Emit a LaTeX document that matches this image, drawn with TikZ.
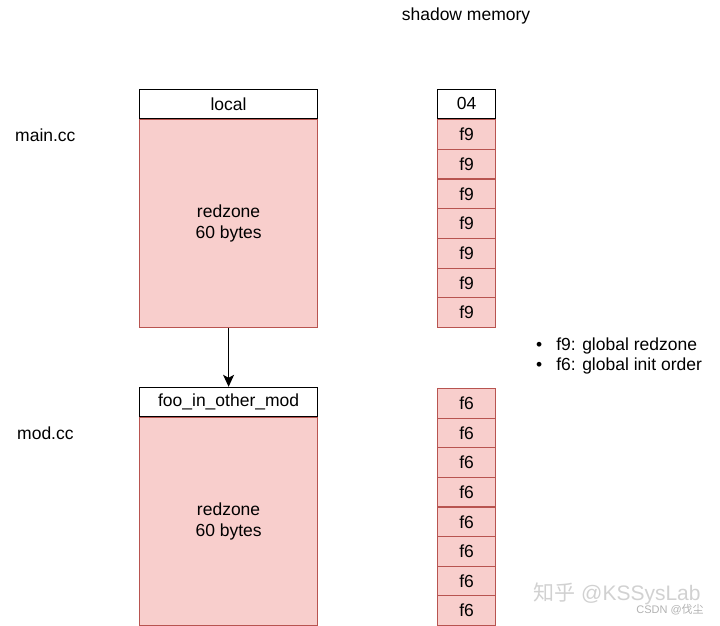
\documentclass[tikz,border=0pt]{standalone}
\usepackage{fontspec}
\setmainfont{Liberation Sans}
\newfontfamily\cjk{Noto Sans CJK SC}
\usetikzlibrary{arrows.meta}
\definecolor{rzfill}{HTML}{F8CECC}
\definecolor{rzline}{HTML}{B85450}
\begin{document}
\begin{tikzpicture}[x=1pt,y=-1pt,
  every node/.style={font=\fontsize{17.5}{21}\selectfont, inner sep=0pt},
  hdr/.style={draw=black, line width=1.2pt, fill=white, minimum width=178pt, minimum height=29pt},
  rz/.style={draw=rzline, line width=1.2pt, fill=rzfill, minimum width=178pt, minimum height=208pt, align=center},
  cell/.style={draw=rzline, line width=1.2pt, fill=rzfill, minimum width=58pt, minimum height=29.7pt},
  hcell/.style={draw=black, line width=1.2pt, fill=white, minimum width=58pt, minimum height=29pt},
  lbl/.style={anchor=west},
  wm/.style={text=black!18}]
\useasboundingbox (0,0) rectangle (720,626);
% left column
\node[rz, anchor=north west] (rz1) at (139,119) {redzone\\60 bytes};
\node[hdr, anchor=south west] (local) at (139,119) {local};
\node[rz, anchor=north west] (rz2) at (139,417) {redzone\\60 bytes};
\node[hdr, anchor=south west] (foo) at (139,417) {foo\_in\_other\_mod};
\draw[line width=1.4pt, -{Stealth[length=12pt,width=11pt,inset=3pt]}] (rz1.south) -- (foo.north);
% labels
\node[lbl] (main) at (15,135) {main.cc};
\node[lbl] (mod) at (17,433) {mod.cc};
\node (shadow) at (466,16) {shadow memory};
% shadow column top
\node[hcell, anchor=south west] (s0) at (437,119) {04};
\foreach \i in {1,...,7} {
  \node[cell, anchor=north west] (s\i) at (437,{119+(\i-1)*29.7}) {f9};
}
\foreach \i in {1,...,8} {
  \node[cell, anchor=north west] (t\i) at (437,{388+(\i-1)*29.6}) {f6};
}
% bullets
\node[lbl] (b1) at (536,346) {\textbullet\hspace{14pt}f9: global redzone};
\node[lbl] (b2) at (536,366) {\textbullet\hspace{14pt}f6: global init order};
% watermark
\node[wm, font=\fontsize{21}{24}\selectfont] (wm1) at (617,594) {{\cjk 知乎} @KSSysLab};
\node[wm, text=black!30, font=\fontsize{11}{13}\selectfont] (wm2) at (670,610) {CSDN @{\cjk 伐尘}};
\end{tikzpicture}
\end{document}
